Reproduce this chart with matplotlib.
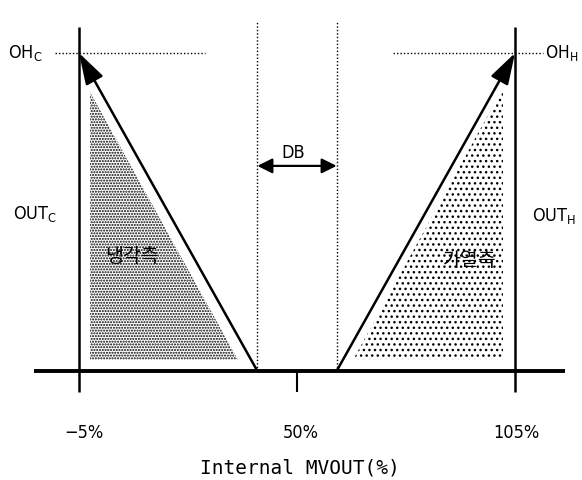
import matplotlib
matplotlib.use("Agg")
import matplotlib.pyplot as plt
from matplotlib.patches import Polygon

# ---- data ----
tick_values = [-5, 50, 105]
tick_labels = ["\u22125%", "50%", "105%"]
db_edges = [40, 60]            # dead band edges (%)
out_min, out_max = 0, 100      # output levels (baseline, OH)
cool_fill = [(-2.2, 87.7), (-2.2, 3.5), (35.1, 3.5)]
heat_fill = [(102.0, 89.0), (102.0, 3.5), (64.1, 3.5)]
xlabel = "Internal MVOUT(%)"

plt.rcParams['mathtext.fontset'] = 'custom'
plt.rcParams['mathtext.rm'] = 'DejaVu Sans:stretch=condensed'
plt.rcParams['hatch.linewidth'] = 1.0

fig = plt.figure(figsize=(5.82, 4.8), dpi=100)
ax = fig.add_axes([0, 0, 1, 1])
ax.set_xlim(-24.93, 121.9)
ax.set_ylim(-34.28, 116.67)
ax.axis('off')

narrow = dict(family=['DejaVu Sans'], stretch='condensed')
kr = ['Noto Sans CJK KR', 'DejaVu Sans']

# fills
ax.add_patch(Polygon(cool_fill, closed=True, facecolor='white', edgecolor='black',
                     hatch='......', linewidth=0))
ax.add_patch(Polygon(heat_fill, closed=True, facecolor='white', edgecolor='black',
                     hatch='...', linewidth=0))

# baseline
ax.plot([-16.35, 117.6], [0, 0], color='black', lw=2.8, solid_capstyle='butt')
# vertical solid lines at ends
for xv in (tick_values[0], tick_values[2]):
    ax.plot([xv, xv], [-6.6, 108.2], color='black', lw=1.8, solid_capstyle='butt')
# middle tick
ax.plot([tick_values[1], tick_values[1]], [-6.6, 0], color='black', lw=1.5, solid_capstyle='butt')

# dotted DB lines
for xv in db_edges:
    ax.plot([xv, xv], [0, 109.7], color='black', lw=1.0, ls=(0, (1, 1.5)))

# dotted OH lines
ax.plot([-11.06, 26.8], [out_max, out_max], color='black', lw=1.0, ls=(0, (1, 1.5)))
ax.plot([74.2, 112.1], [out_max, out_max], color='black', lw=1.0, ls=(0, (1, 1.5)))

# arrows
astyle = '-|>,head_length=0.55,head_width=0.17'
ax.annotate('', xy=(tick_values[0], out_max), xytext=(db_edges[0], out_min),
            arrowprops=dict(arrowstyle=astyle, mutation_scale=35, lw=1.8, color='black',
                            shrinkA=0, shrinkB=0))
ax.annotate('', xy=(tick_values[2], out_max), xytext=(db_edges[1], out_min),
            arrowprops=dict(arrowstyle=astyle, mutation_scale=35, lw=1.8, color='black',
                            shrinkA=0, shrinkB=0))
# DB arrow
ax.annotate('', xy=(db_edges[0], 64.5), xytext=(db_edges[1], 64.5),
            arrowprops=dict(arrowstyle='<|-|>,head_length=0.5,head_width=0.25',
                            mutation_scale=18, lw=1.6, color='black',
                            shrinkA=0, shrinkB=0))
ax.text(49.0, 68.6, "DB", fontsize=13, ha='center', va='center', **narrow)

# labels
ax.text(-22.9, out_max, r"OH$_\mathrm{C}$", fontsize=13, ha='left', va='center', **narrow)
ax.text(112.6, out_max, r"OH$_\mathrm{H}$", fontsize=12.5, ha='left', va='center', **narrow)
ax.text(-21.6, 49.4, r"OUT$_\mathrm{C}$", fontsize=13, ha='left', va='center', **narrow)
ax.text(109.3, 48.7, r"OUT$_\mathrm{H}$", fontsize=13, ha='left', va='center', **narrow)

ax.text(8.4, 35.9, "냉각측", fontsize=14, family=kr, weight='medium', ha='center', va='center')
ax.text(93.6, 34.9, "가열측", fontsize=14, family=kr, weight='medium', ha='center', va='center')

for v, lab, dx in zip(tick_values, tick_labels, [1.3, 1.0, 0.3]):
    ax.text(v + dx, -19.5, lab, fontsize=13, ha='center', va='center', **narrow)

ax.text(50.8, -30.5, xlabel, fontsize=14, family=['DejaVu Sans Mono'],
        ha='center', va='center')

fig.savefig("out.png", dpi=100)
